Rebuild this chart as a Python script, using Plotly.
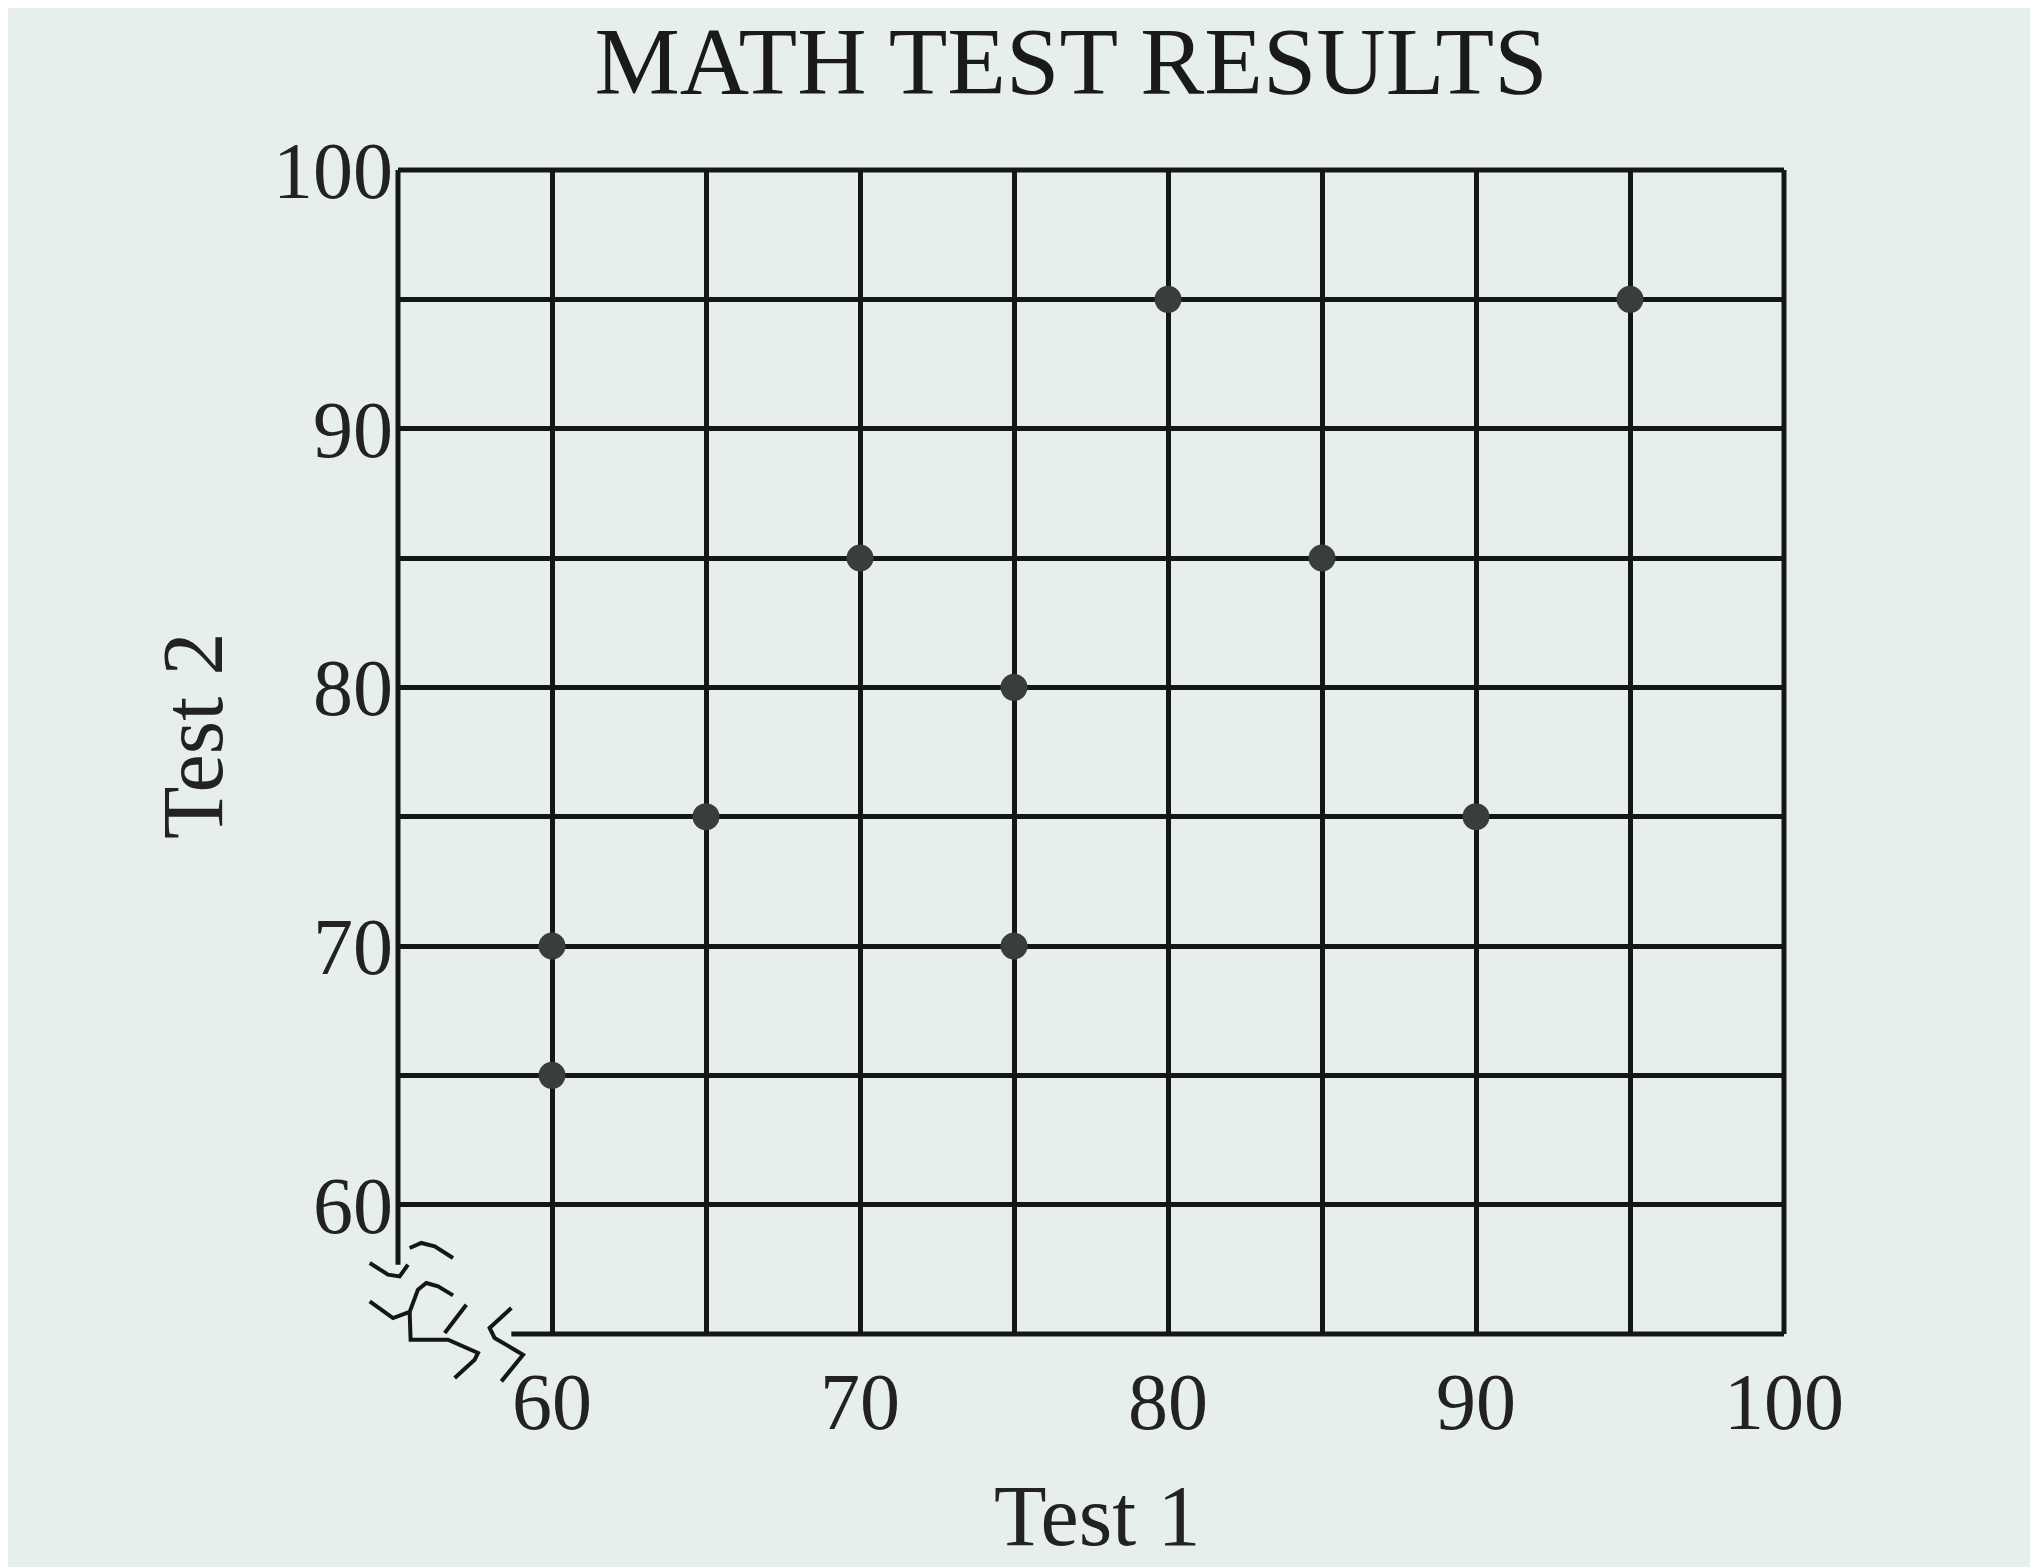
import plotly.graph_objects as go

test1 = [60, 60, 65, 70, 75, 75, 80, 85, 90, 95]
test2 = [70, 65, 75, 85, 80, 70, 95, 85, 75, 95]
grid_vals = [60, 65, 70, 75, 80, 85, 90, 95, 100]
tick_text = ["60", "", "70", "", "80", "", "90", "", "100"]

FONT = "Liberation Serif, Times New Roman, serif"
BG = "#e7eeee"
INK = "#141717"
W, H = 2038, 1567
L, R, T, B = 390, 262, 162, 241
PW, PH = W - L - R, H - T - B


def px(X, Y):
    return (X - L) / PW, (H - B - Y) / PH


def crop_pt(cx, cy):
    return px(330 + cx / 3, 1150 + cy / 3)


def path_from(points):
    pts = [crop_pt(*p) for p in points]
    return "M " + " L ".join(f"{x:.4f},{y:.4f}" for x, y in pts)


fig = go.Figure()
fig.add_trace(go.Scatter(
    x=test1, y=test2, mode="markers",
    marker=dict(size=27, color="#3a3d3d", line=dict(width=0)),
    showlegend=False, cliponaxis=False,
))

axis_common = dict(
    range=[55, 100], tickmode="array", tickvals=grid_vals, ticktext=tick_text,
    showgrid=True, gridcolor=INK, gridwidth=5,
    showline=False, zeroline=False, ticks="",
    tickfont=dict(family=FONT, size=80, color="#222"),
)
fig.update_xaxes(**axis_common, ticklabelstandoff=14)
fig.update_yaxes(**axis_common, ticklabelstandoff=4)

line = dict(color=INK, width=5)
# frame: top, right, left (stops before break), bottom (starts after break)
fig.add_shape(type="line", xref="paper", yref="paper", x0=0, x1=1, y0=1, y1=1, line=line)
fig.add_shape(type="line", xref="paper", yref="paper", x0=1, x1=1, y0=0, y1=1, line=line)
lx, ly = crop_pt(210, 320)
fig.add_shape(type="line", xref="paper", yref="paper", x0=0, x1=0, y0=ly, y1=1, line=line)
bx, by = crop_pt(520, 545)
fig.add_shape(type="line", xref="paper", yref="paper", x0=bx, x1=1, y0=0, y1=0, line=line)

# axis break squiggles
strokes = [
    [(210, 320), (185, 355), (150, 350), (95, 315)],
    [(215, 270), (250, 255), (290, 265), (345, 300)],
    [(95, 430), (165, 480), (215, 462), (240, 395), (265, 375), (300, 385), (345, 412)],
    [(385, 440), (320, 525)],
    [(215, 462), (218, 545), (330, 545), (420, 585), (410, 605), (350, 660)],
    [(520, 450), (455, 510), (470, 540), (555, 590), (490, 670)],
]
for s in strokes:
    fig.add_shape(type="path", xref="paper", yref="paper", path=path_from(s),
                  line=dict(color=INK, width=4))

fig.add_annotation(text="Test 1", xref="paper", yref="paper", x=(1089 - L) / PW, y=(H - B - 1508) / PH,
                   xanchor="center", yanchor="middle",
                   showarrow=False, font=dict(family=FONT, size=86, color="#222"))
fig.add_annotation(text="Test 2", xref="paper", yref="paper", x=(185 - L) / PW, y=(H - B - 728) / PH,
                   xanchor="center", yanchor="middle",
                   showarrow=False, textangle=-90, font=dict(family=FONT, size=86, color="#222"))

fig.update_layout(
    width=W, height=H,
    paper_bgcolor=BG, plot_bgcolor=BG,
    margin=dict(l=L, r=R, t=T, b=B),
    title=dict(text="MATH TEST RESULTS", x=1063 / W, xanchor="center", y=1 - 52 / H, yanchor="middle",
               font=dict(family=FONT, size=96, color="#1a1a1a")),
)

fig.write_html("out.html")
